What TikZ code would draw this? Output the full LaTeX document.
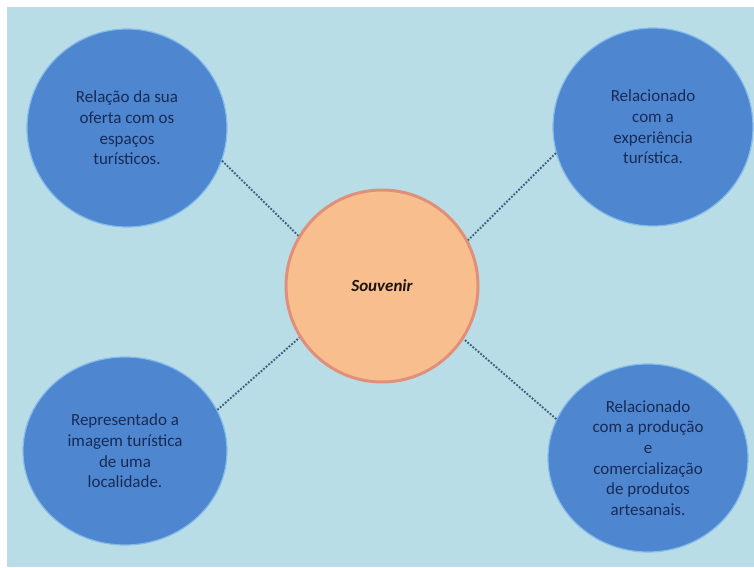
\documentclass[tikz,border=0pt]{standalone}
\usepackage{fontspec}
\setmainfont{Carlito}
\usetikzlibrary{shapes.geometric}
\definecolor{bgblue}{HTML}{B9DDE6}
\definecolor{circblue}{HTML}{4F86D0}
\definecolor{halo}{HTML}{84BBEA}
\definecolor{peach}{HTML}{F8BE8E}
\definecolor{peachedge}{HTML}{E0907A}
\definecolor{navytext}{HTML}{172B55}
\definecolor{dotline}{HTML}{3F5F80}
\begin{document}
\begin{tikzpicture}[x=1pt,y=-1pt,
  bubble/.style={ellipse, fill=circblue, draw=halo, line width=1.2pt, inner sep=0pt,
    text=navytext, align=center, font=\fontsize{17}{20.7}\selectfont},
  hub/.style={circle, fill=peach, draw=peachedge, line width=3pt, minimum size=192pt,
    inner sep=0pt, font=\fontsize{17}{20.7}\selectfont\bfseries\itshape, text=black!85!brown},
  link/.style={dotline, line width=1.9pt, dash pattern=on 1.8pt off 1.6pt}]
\useasboundingbox (0,0) rectangle (754,567);
\fill[white] (0,0) rectangle (754,567);
\fill[bgblue] (7,7) rectangle (754,567);
\node[hub] (hub) at (382,286) {Souvenir};
\node[bubble, minimum width=200pt, minimum height=198pt] (tl) at (127,128)
  {Relação da sua\\oferta com os\\espaços\\turísticos.};
\node[bubble, minimum width=200pt, minimum height=198pt] (tr) at (653,127)
  {Relacionado\\com a\\experiência\\turística.};
\node[bubble, minimum width=204pt, minimum height=188pt] (bl) at (125,451)
  {Representado a\\imagem turística\\de uma\\localidade.};
\node[bubble, minimum width=200pt, minimum height=188pt] (br) at (648,458)
  {Relacionado\\com a produção\\e\\comercialização\\de produtos\\artesanais.};
\draw[link] (tl.-19) -- (hub.149);
\draw[link] (tr.195) -- (hub.28);
\draw[link] (bl.24) -- (hub.212);
\draw[link] (br.157) -- (hub.-33);
\end{tikzpicture}
\end{document}
